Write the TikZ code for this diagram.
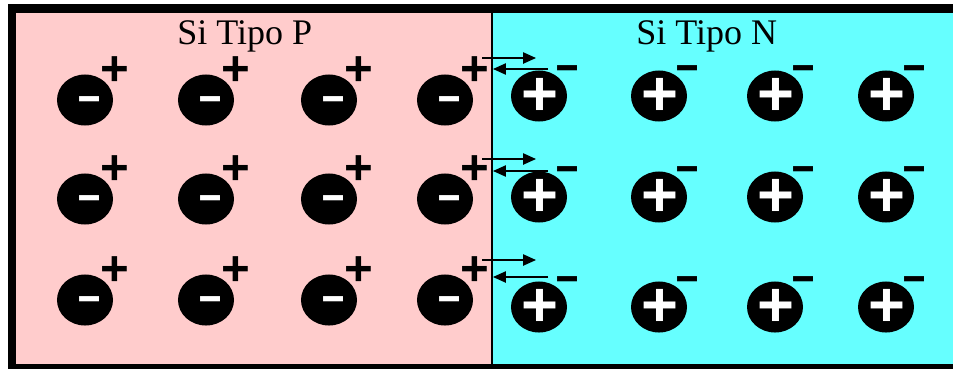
\documentclass[tikz,border=0pt]{standalone}
\usepackage{fontspec}
\usepackage{graphicx}
\usepackage{xcolor}
\setmainfont{Liberation Serif}
\newfontfamily\signfont{Liberation Sans}[BoldFont={Liberation Sans Bold}]
\usetikzlibrary{
  arrows.meta,
  shapes.geometric
}
\definecolor{RegionP}{HTML}{FFCCCC}
\definecolor{RegionN}{HTML}{66FFFF}
\pagecolor{RegionN}
\tikzset{
  ion/.style={
    ellipse,
    fill=black,
    inner sep=0pt,
    minimum width=1.4cm,
    minimum height=1.275cm
  },
  holesign/.style={
    inner sep=0pt,
    font=\signfont\bfseries\fontsize{35}{35}\selectfont
  },
  innerplus/.style={
    inner sep=0pt,
    text=white,
    font=\signfont\bfseries\fontsize{45}{45}\selectfont
  },
  minussign/.style={
    inner sep=0pt,
    font=\signfont\bfseries\fontsize{31}{31}\selectfont
  },
  regionlabel/.style={
    anchor=base west,
    inner sep=0pt,
    font=\fontsize{25.6}{30}\selectfont
  },
  drift/.style={
    -{Triangle[length=3.2mm,width=2.8mm]},
    line width=0.9pt
  }
}

\begin{document}
\begin{tikzpicture}[x=0.025cm,y=-0.025cm]

  \fill[white] (0,0) rectangle (953,369);
  \useasboundingbox (0,0) rectangle (953,369);

  % frame and the two regions
  \fill[black] (8,4) rectangle (960,369);
  \fill[RegionP] (16,13) rectangle (492,364);
  \fill[RegionN] (492,13) rectangle (960,364);
  \draw[line width=1.5pt] (492,13) -- (492,364);

  \node[regionlabel] (labelP) at (177,44) {Si Tipo P};
  \node[regionlabel] (labelN) at (636,44) {Si Tipo N};

  % acceptor ions with their holes
  \foreach \x [count=\c] in {85,206,329,445} {
    \foreach \y [count=\r] in {100,199,300} {
      \node[ion] (pion-\c-\r) at (\x,\y) {};
      \node[minussign,text=white] at (\x+5,\y+4)
        {\scalebox{1.8}[1]{-}};
      \node[holesign] (hole-\c-\r) at (\x+30,\y-29) {+};
    }
  }

  % donor ions with their electrons
  \foreach \x [count=\c] in {539,659,775,886} {
    \foreach \y [count=\r] in {96,197,307} {
      \node[ion] (nion-\c-\r) at (\x,\y) {};
      \node[innerplus] at (\x+1,\y+1) {+};
      \node[minussign] (elec-\c-\r) at (\x+29,\y-23)
        {\scalebox{1.8}[1]{-}};
    }
  }

  % diffusion across the junction
  \foreach \ya/\yb [count=\r] in {58/69,159/171,260/277} {
    \coordinate (outP-\r) at (482,\ya);
    \coordinate (inN-\r) at (536,\ya);
    \coordinate (outN-\r) at (548,\yb);
    \coordinate (inP-\r) at (493,\yb);
    \draw[drift] (outP-\r) -- (inN-\r);
    \draw[drift] (outN-\r) -- (inP-\r);
  }

\end{tikzpicture}
\end{document}
